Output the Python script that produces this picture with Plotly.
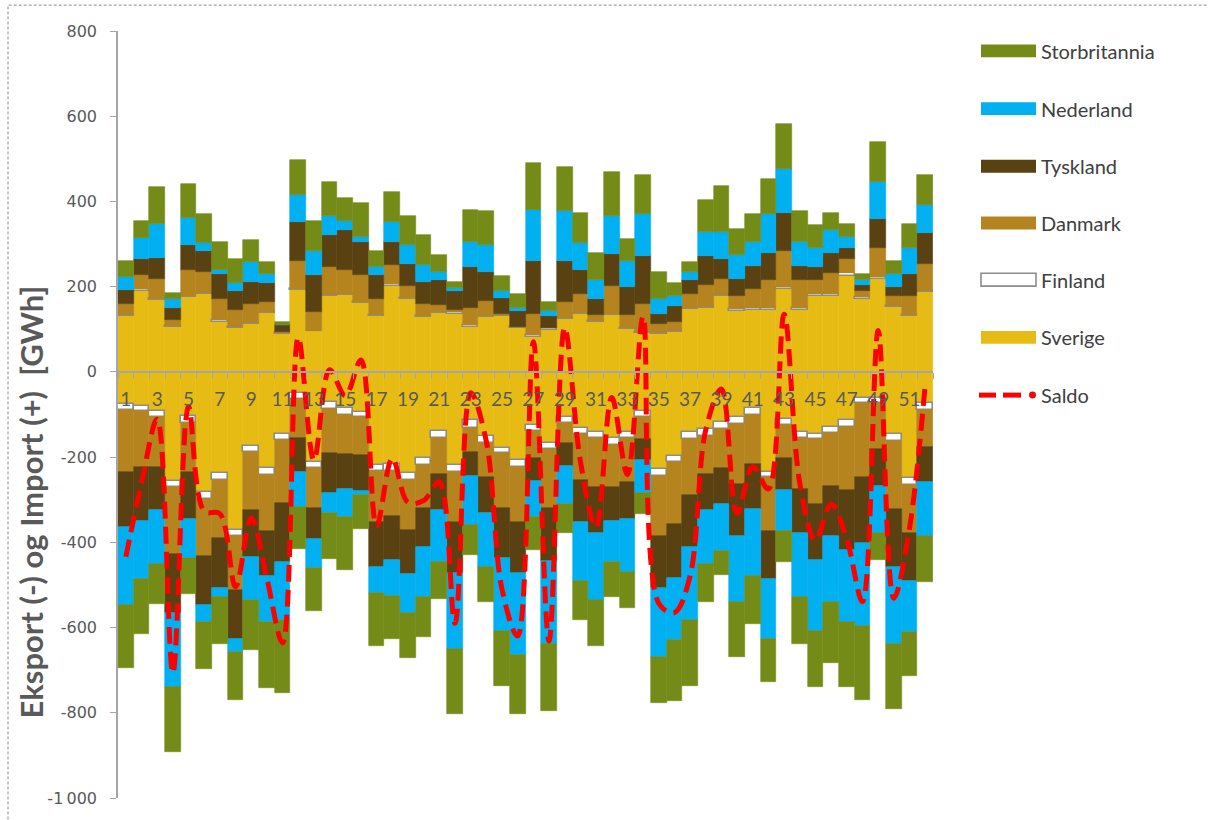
import numpy as np
import plotly.graph_objects as go

# Weekly net exchange per country, GWh (import positive, export negative)
weeks = list(range(1, 53))

imp_sverige = [130, 191, 168, 105, 175, 183, 118, 103, 112, 138, 89, 192, 95, 178, 181, 161, 132, 202, 170, 128,
               138, 136, 106, 128, 132, 102, 83, 99, 124, 136, 118, 134, 100, 91, 89, 94, 148, 150, 178, 142,
               145, 145, 195, 145, 179, 179, 226, 171, 218, 152, 130, 187]
imp_finland = [3, 3, 3, 3, 3, 3, 3, 3, 3, 3, 3, 3, 2, 3, 2, 3, 2, 4, 4, 3,
               3, 4, 3, 2, 2, 3, 4, 4, 2, 3, 2, 2, 3, 2, 2, 2, 2, 3, 3, 5,
               4, 4, 5, 6, 3, 3, 5, 4, 5, 3, 4, 3]
imp_danmark = [26, 33, 48, 13, 60, 49, 49, 40, 45, 22, 2, 66, 43, 64, 55, 63, 36, 45, 27, 29,
               15, 6, 40, 37, 3, 0, 50, 0, 38, 43, 14, 65, 31, 67, 21, 22, 32, 52, 38, 31,
               45, 67, 83, 65, 34, 49, 34, 15, 68, 23, 44, 64]
imp_tyskland = [33, 38, 48, 30, 60, 48, 60, 44, 51, 46, 15, 90, 87, 76, 94, 78, 57, 54, 52, 51,
                60, 44, 96, 67, 37, 37, 123, 29, 96, 56, 36, 75, 66, 112, 24, 36, 34, 67, 46, 41,
                54, 63, 90, 32, 29, 48, 26, 14, 67, 22, 52, 71]
imp_nederland = [31, 49, 80, 19, 64, 20, 8, 18, 47, 21, 0, 63, 56, 45, 22, 12, 19, 47, 45, 39,
                 19, 8, 60, 64, 15, 7, 121, 12, 117, 65, 46, 90, 61, 98, 34, 24, 19, 56, 63, 55,
                 57, 91, 102, 57, 46, 53, 26, 12, 87, 30, 61, 66]
imp_storbritannia = [37, 40, 86, 16, 78, 67, 67, 57, 51, 27, 8, 83, 71, 79, 54, 79, 37, 71, 68, 71,
                     40, 14, 76, 79, 37, 33, 109, 19, 105, 70, 63, 102, 52, 93, 64, 30, 22, 76, 109, 62,
                     65, 82, 106, 72, 53, 41, 29, 14, 94, 30, 55, 72]

exp_sverige = [-76, -80, -92, -257, -103, -283, -238, -370, -174, -226, -145, -49, -212, -71, -84, -94, -219, -215, -238, -203,
               -139, -219, -114, -150, -178, -207, -125, -168, -107, -131, -142, -156, -141, -92, -228, -197, -141, -133, -117, -107,
               -84, -234, -110, -140, -145, -129, -114, -61, -62, -146, -250, -72]
exp_finland = [-14, -12, -14, -14, -16, -16, -16, -14, -15, -16, -15, -14, -14, -15, -16, -13, -14, -17, -16, -16,
               -17, -17, -17, -16, -13, -17, -14, -14, -14, -14, -14, -15, -15, -15, -16, -15, -16, -17, -18, -16,
               -17, -13, -15, -14, -13, -14, -15, -13, -10, -17, -15, -17]
exp_danmark = [-146, -132, -118, -157, -117, -133, -136, -127, -134, -132, -148, -91, -94, -105, -93, -88, -120, -106, -116, -101,
               -84, -117, -57, -81, -129, -129, -63, -138, -47, -108, -115, -100, -103, -51, -140, -144, -132, -90, -91, -140,
               -115, -127, -77, -121, -153, -124, -148, -173, -108, -158, -113, -87]
exp_tyskland = [-127, -125, -101, -139, -109, -116, -117, -116, -111, -105, -138, -82, -73, -93, -82, -84, -105, -104, -105, -91,
                -85, -119, -56, -84, -116, -119, -53, -124, -52, -100, -106, -78, -86, -49, -123, -127, -123, -85, -85, -122,
                -105, -113, -75, -103, -131, -119, -142, -154, -88, -137, -112, -82]
exp_nederland = [-185, -138, -125, -172, -91, -40, -22, -30, -101, -109, -136, -82, -68, -47, -66, -10, -60, -83, -92, -118,
                 -122, -179, -116, -127, -173, -193, -86, -194, -91, -138, -158, -97, -124, -78, -161, -147, -170, -125, -109, -155,
                 -158, -139, -97, -151, -166, -154, -167, -195, -110, -180, -121, -128]
exp_storbritannia = [-146, -128, -94, -154, -86, -109, -109, -112, -117, -154, -171, -98, -100, -109, -123, -79, -126, -101, -105, -94,
                     -86, -151, -70, -82, -127, -137, -78, -157, -67, -91, -109, -82, -85, -48, -109, -143, -154, -90, -57, -128,
                     -113, -101, -72, -109, -131, -143, -153, -173, -64, -153, -102, -108]

y_tickvals = [800, 600, 400, 200, 0, -200, -400, -600, -800, -1000]
y_ticktext = ["800", "600", "400", "200", "0", "-200", "-400", "-600", "-800", "-1\u2009000"]
x_tickvals = list(range(1, 52, 2))

# Saldo = net of all imports and exports per week
saldo = np.sum([imp_sverige, imp_finland, imp_danmark, imp_tyskland, imp_nederland, imp_storbritannia,
                exp_sverige, exp_finland, exp_danmark, exp_tyskland, exp_nederland, exp_storbritannia], axis=0)

countries = [
    ("Sverige", imp_sverige, exp_sverige, "#E6BC14"),
    ("Finland", imp_finland, exp_finland, "#FFFFFF"),
    ("Danmark", imp_danmark, exp_danmark, "#B5841F"),
    ("Tyskland", imp_tyskland, exp_tyskland, "#5A4112"),
    ("Nederland", imp_nederland, exp_nederland, "#00B0F0"),
    ("Storbritannia", imp_storbritannia, exp_storbritannia, "#748B17"),
]
colors = {name: c for name, _, _, c in countries}

fig = go.Figure()
for name, imp, exp, color in countries:
    if name == "Finland":
        edge = dict(color="#8C8C8C", width=1.6)
    else:
        edge = dict(color=color, width=0.6)
    for vals in (imp, exp):
        fig.add_trace(go.Bar(x=weeks, y=vals, name=name, width=1,
                             marker=dict(color=color, line=edge), showlegend=False))

fig.add_trace(go.Scatter(x=weeks, y=saldo, mode="lines", name="Saldo", showlegend=False,
                         line=dict(color="#FF0000", width=5, dash="17px,8px",
                                   shape="spline", smoothing=1.0)))

# Plot area geometry in pixels
L, R, T, B = 118, 933, 31, 802
W_FIG, H_FIG = 1208, 820


def px_x(x):
    return (x - L) / (R - L)


def px_y(y):
    return (B - y) / (B - T)


shapes = []
annotations = []

# Dashed frame around the chart
shapes.append(dict(type="rect", xref="paper", yref="paper",
                   x0=px_x(8), x1=px_x(1212), y0=px_y(835), y1=px_y(5),
                   line=dict(color="#8C8C8C", width=1, dash="3px,2px"), fillcolor="rgba(0,0,0,0)",
                   layer="below"))

# Legend
legend_rows = [("Storbritannia", 51), ("Nederland", 109), ("Tyskland", 167), ("Danmark", 224),
               ("Finland", 281), ("Sverige", 339), ("Saldo", 397)]
for name, yc in legend_rows:
    if name == "Saldo":
        for xa, xb in ((979, 996), (1003, 1021)):
            shapes.append(dict(type="line", xref="paper", yref="paper",
                               x0=px_x(xa), x1=px_x(xb), y0=px_y(yc), y1=px_y(yc),
                               line=dict(color="#FF0000", width=5)))
        shapes.append(dict(type="circle", xref="paper", yref="paper",
                           x0=px_x(1029), x1=px_x(1036), y0=px_y(yc + 3.5), y1=px_y(yc - 3.5),
                           fillcolor="#FF0000", line=dict(width=0)))
    else:
        edge = dict(color="#8C8C8C", width=1.6) if name == "Finland" else dict(width=0)
        shapes.append(dict(type="rect", xref="paper", yref="paper",
                           x0=px_x(981), x1=px_x(1036), y0=px_y(yc + 6.5), y1=px_y(yc - 6.5),
                           fillcolor=colors[name], line=edge))
    annotations.append(dict(text=name, xref="paper", yref="paper", x=px_x(1039), y=px_y(yc),
                            xanchor="left", yanchor="middle", showarrow=False,
                            font=dict(family="Lato", size=20, color="#404040")))

# Y-axis title
annotations.append(dict(text="Eksport (-) og Import (+)  [GWh]", xref="paper", yref="paper",
                        x=px_x(31), y=px_y(505), xanchor="center", yanchor="middle",
                        textangle=-90, showarrow=False,
                        font=dict(family="Lato", size=31, color="#595959", weight="bold")))

fig.update_layout(
    width=W_FIG, height=H_FIG,
    margin=dict(l=L, r=W_FIG - R, t=T, b=H_FIG - B, pad=0),
    barmode="relative", bargap=0,
    plot_bgcolor="white", paper_bgcolor="white",
    shapes=shapes, annotations=annotations,
    showlegend=False,
    xaxis=dict(range=[0.5, 52.5], anchor="free", position=1000 / 1800,
               tickmode="array", tickvals=x_tickvals, ticktext=[str(v) for v in x_tickvals],
               ticks="", showline=True, linecolor="#A6A6A6", linewidth=1.5,
               showgrid=False, zeroline=False, ticklabelstandoff=11,
               tickfont=dict(family="Lato", size=19, color="#595959"),
               minor=dict(tickmode="linear", tick0=0.5, dtick=1, ticks="outside",
                          ticklen=6, tickcolor="#A6A6A6", tickwidth=1.2, showgrid=False)),
    yaxis=dict(range=[-1000, 800], tickmode="array", tickvals=y_tickvals, ticktext=y_ticktext,
               ticks="outside", ticklen=6, tickcolor="#A6A6A6", tickwidth=1.2,
               showline=True, linecolor="#A6A6A6", linewidth=1.5,
               showgrid=False, zeroline=False, ticklabelstandoff=10,
               tickfont=dict(family="DejaVu Sans", size=16, color="#595959")),
)

fig.write_html("out.html")
